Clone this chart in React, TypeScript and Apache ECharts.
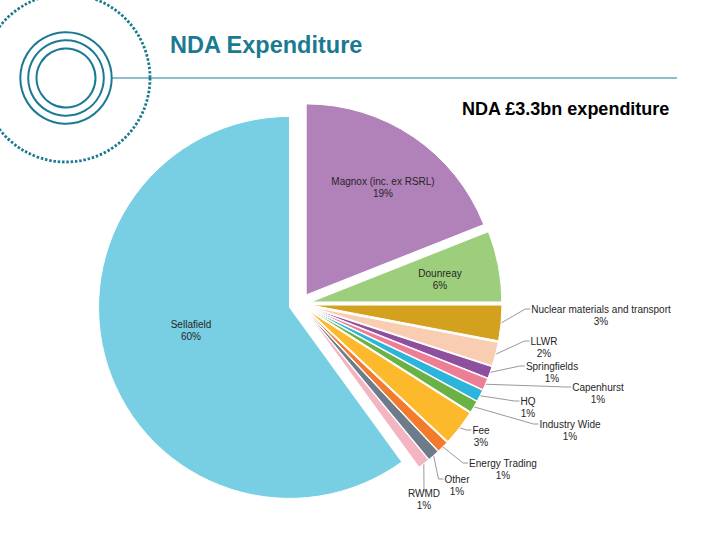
import React, { useEffect, useRef } from 'react';
import * as echarts from 'echarts';

// ---- data ----
const categories = [
  'Magnox (inc. ex RSRL)',
  'Dounreay',
  'Nuclear materials and transport',
  'LLWR',
  'Springfields',
  'Capenhurst',
  'HQ',
  'Industry Wide',
  'Fee',
  'Energy Trading',
  'Other',
  'RWMD',
  'Sellafield',
];
const shares = [19, 6, 3, 2, 1, 1, 1, 1, 3, 1, 1, 1, 60];

// ---- styles / layout ----
const colors = [
  '#B181B9', '#9CCE7C', '#D4A11F', '#F9CDB1', '#8F4F9F', '#EE7E96', '#2DB4DA',
  '#6AB245', '#FCB92C', '#F37B2D', '#6E7B8A', '#F3B5C1', '#78CEE2',
];
const labelCentres: number[][] = [
  [383, 187], [440, 279], [601, 315], [544, 347], [552, 372], [598, 393],
  [528, 407], [570, 430], [481, 436], [503, 469], [457, 485], [424, 499], [191, 330],
];
const labelInside = [true, true, false, false, false, false, false, false, false, false, false, false, true];
const attachTop = [false, false, false, false, false, false, false, false, false, false, false, true, false];

const TEAL = '#1B7A93';
const CENTER = [300, 304];
const RADIUS = 191;
const EXPLODE = 11;

export default function App() {
  const ref = useRef<HTMLDivElement>(null);
  useEffect(() => {
    if (!ref.current) return;
    const chart = echarts.init(ref.current, undefined, { renderer: 'svg' });
    const total = shares.reduce((a, b) => a + b, 0);
    let cum = 0;
    const series = categories.map((_, k) => {
      const mid = ((cum + shares[k] / 2) / total) * Math.PI * 2;
      cum += shares[k];
      const cx = CENTER[0] + EXPLODE * Math.sin(mid);
      const cy = CENTER[1] - EXPLODE * Math.cos(mid);
      const data = categories.map((name, i) => ({
        name,
        value: shares[i],
        itemStyle:
          i === k
            ? { color: colors[i], borderColor: '#ffffff', borderWidth: 1 }
            : { color: 'rgba(0,0,0,0)', borderWidth: 0 },
        label: i === k ? { show: true, position: labelInside[i] ? 'inside' : 'outside' } : { show: false },
        labelLine: { show: i === k && !labelInside[i] },
      }));
      return {
        type: 'pie',
        name: categories[k],
        center: [cx, cy],
        radius: RADIUS,
        startAngle: 90,
        clockwise: true,
        avoidLabelOverlap: false,
        silent: true,
        emphasis: { disabled: true },
        label: {
          formatter: '{b}\n{c}%',
          fontSize: 10,
          lineHeight: 12,
          fontFamily: '"Liberation Sans", Arial, sans-serif',
          color: '#262626',
        },
        labelLine: { lineStyle: { color: '#7f7f7f', width: 0.8 } },
        labelLayout: (p: any) => {
          const i = p.dataIndex;
          const [lx, ly] = labelCentres[i];
          const out: any = { x: lx, y: ly, align: 'center', verticalAlign: 'middle' };
          if (!labelInside[i] && p.labelLinePoints) {
            const start = p.labelLinePoints[0];
            if (attachTop[i]) {
              out.labelLinePoints = [start, [lx, ly - 9], [lx, ly - 7]];
            } else {
              const left = lx - p.labelRect.width / 2 - 1;
              const y1 = ly - 6;
              out.labelLinePoints = [start, [left - 5, y1], [left, y1]];
            }
          }
          return out;
        },
        data,
      };
    });
    chart.setOption({
      animation: false,
      backgroundColor: '#ffffff',
      graphic: [
        {
          type: 'circle',
          shape: { cx: 66, cy: 78, r: 84 },
          style: { fill: 'none', stroke: TEAL, lineWidth: 2.8, lineDash: [2.5, 1.8] },
        },
        { type: 'circle', shape: { cx: 66, cy: 78, r: 45.7 }, style: { fill: 'none', stroke: TEAL, lineWidth: 2 } },
        { type: 'circle', shape: { cx: 66, cy: 78, r: 37.8 }, style: { fill: 'none', stroke: TEAL, lineWidth: 2 } },
        { type: 'circle', shape: { cx: 66, cy: 78, r: 29.5 }, style: { fill: 'none', stroke: TEAL, lineWidth: 2 } },
        { type: 'line', shape: { x1: 112, y1: 78, x2: 677, y2: 78 }, style: { stroke: TEAL, lineWidth: 1 } },
        {
          type: 'text',
          x: 170,
          y: 45,
          style: {
            text: 'NDA Expenditure',
            fill: TEAL,
            font: 'bold 23.5px "Liberation Sans", Arial, sans-serif',
            textVerticalAlign: 'middle',
          },
        },
        {
          type: 'text',
          x: 462,
          y: 109,
          style: {
            text: 'NDA £3.3bn expenditure',
            fill: '#000000',
            font: 'bold 18px "Liberation Sans", Arial, sans-serif',
            textVerticalAlign: 'middle',
          },
        },
      ],
      series,
    });
    return () => chart.dispose();
  }, []);
  return (
    <div
      ref={ref}
      style={{ position: 'fixed', left: 0, top: 0, width: 720, height: 540, background: '#fff' }}
    />
  );
}
